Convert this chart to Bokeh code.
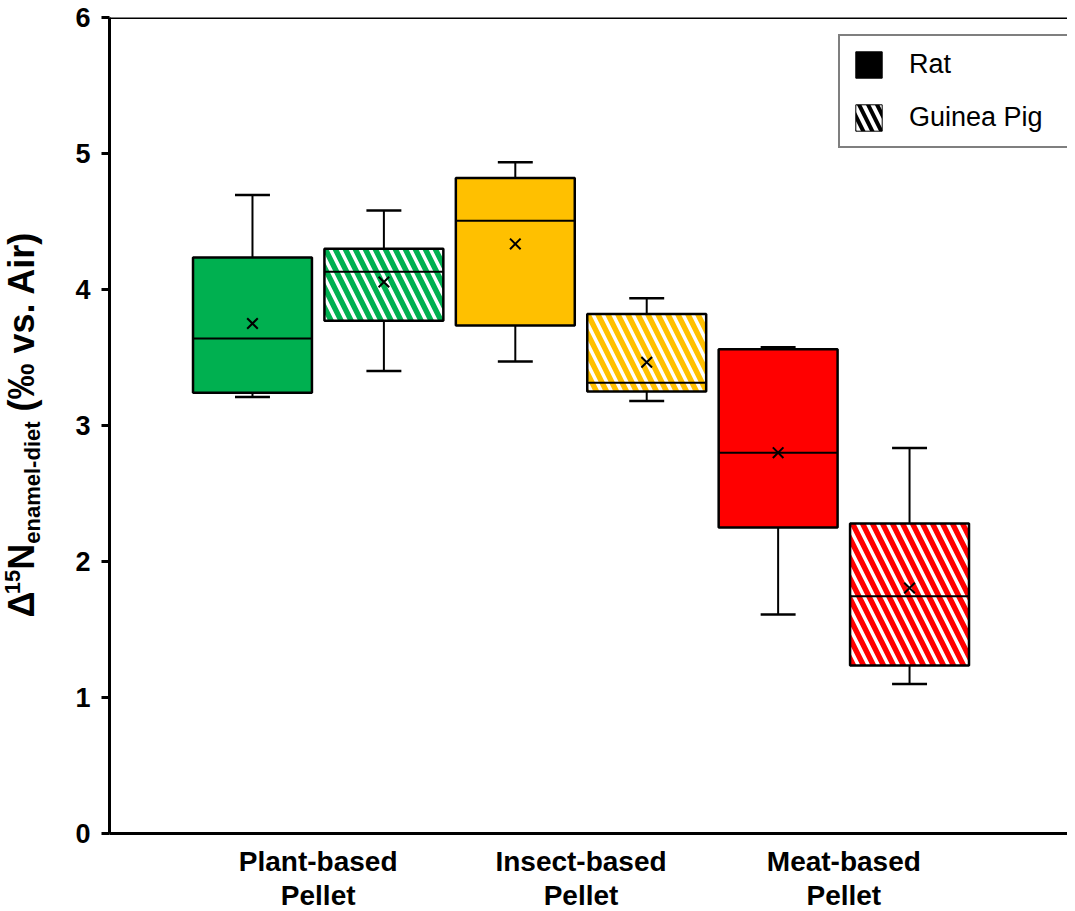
import math
from bokeh.plotting import figure
from bokeh.layouts import row
from bokeh.models import Range1d, FixedTicker, Span, Legend, LegendItem
from bokeh.core.properties import value
from bokeh.embed import file_html
from bokeh.resources import INLINE

# ---- data ----
diets = ["Plant-based\nPellet", "Insect-based\nPellet", "Meat-based\nPellet"]
animals = ["Rat", "Guinea Pig"]
diet_colors = ["#00B050", "#FFC000", "#FF0000"]

# order: Plant Rat, Plant GP, Insect Rat, Insect GP, Meat Rat, Meat GP
box_diet = [0, 0, 1, 1, 2, 2]
box_animal = [0, 1, 0, 1, 0, 1]
lower = [3.21, 3.40, 3.47, 3.18, 1.61, 1.10]
q1 = [3.24, 3.77, 3.735, 3.25, 2.25, 1.235]
median = [3.64, 4.13, 4.505, 3.315, 2.80, 1.745]
q3 = [4.235, 4.30, 4.82, 3.82, 3.56, 2.28]
upper = [4.695, 4.58, 4.935, 3.935, 3.575, 2.835]
mean = [3.75, 4.055, 4.335, 3.465, 2.80, 1.805]

y_ticks = [0, 1, 2, 3, 4, 5, 6]

FONT = "Liberation Sans"

# ---- positions ----
pos = [d * 2 + a + 1 for d, a in zip(box_diet, box_animal)]
BW = 0.905
CAP = 0.133
colors = [diet_colors[d] for d in box_diet]

LEFT_W = 60
H = 908
p = figure(frame_width=958, frame_height=816, output_backend="svg", toolbar_location=None,
           x_range=Range1d(-0.088, 7.202), y_range=Range1d(0, 6),
           min_border_left=109 - LEFT_W, min_border_right=0, min_border_top=17,
           min_border_bottom=40, title=None)
p.outline_line_color = None
p.xgrid.visible = False
p.ygrid.visible = False
p.background_fill_color = "white"
p.border_fill_color = "white"

# y axis
ya = p.yaxis[0]
ya.ticker = FixedTicker(ticks=y_ticks)
ya.axis_line_width = 3
ya.major_tick_line_width = 3
ya.major_tick_out = 8
ya.major_tick_in = 0
ya.minor_tick_line_color = None
ya.major_label_text_font = FONT
ya.major_label_text_font_style = "bold"
ya.major_label_text_font_size = "27px"
ya.major_label_text_color = "black"
ya.major_label_standoff = 11

# x axis
xa = p.xaxis[0]
xa.ticker = FixedTicker(ticks=[1.5, 3.5, 5.5])
xa.major_label_overrides = {1.5: diets[0], 3.5: diets[1], 5.5: diets[2]}
xa.axis_line_width = 3
xa.major_tick_line_color = None
xa.major_tick_out = 0
xa.major_tick_in = 0
xa.minor_tick_line_color = None
xa.major_label_text_font = FONT
xa.major_label_text_font_style = "bold"
xa.major_label_text_font_size = "28px"
xa.major_label_text_color = "black"
xa.major_label_text_line_height = 1.1
xa.major_label_standoff = 12

# top frame line
p.add_layout(Span(location=6, dimension="width", line_width=3, line_color="black"))

rat_idx = [i for i in range(6) if box_animal[i] == 0]
gp_idx = [i for i in range(6) if box_animal[i] == 1]

def sub(lst, idx):
    return [lst[i] for i in idx]

# whiskers
p.segment(x0=pos, y0=q3, x1=pos, y1=upper, line_color="black", line_width=2)
p.segment(x0=pos, y0=q1, x1=pos, y1=lower, line_color="black", line_width=2)
p.segment(x0=[x - CAP for x in pos], y0=upper, x1=[x + CAP for x in pos], y1=upper,
          line_color="black", line_width=2.5)
p.segment(x0=[x - CAP for x in pos], y0=lower, x1=[x + CAP for x in pos], y1=lower,
          line_color="black", line_width=2.5)

# boxes
p.vbar(x=sub(pos, rat_idx), bottom=sub(q1, rat_idx), top=sub(q3, rat_idx), width=BW,
       fill_color=sub(colors, rat_idx), line_color="black", line_width=2.5)
p.vbar(x=sub(pos, gp_idx), bottom=sub(q1, gp_idx), top=sub(q3, gp_idx), width=BW,
       fill_color=sub(colors, gp_idx), line_color="black", line_width=2.5,
       hatch_pattern="\\", hatch_color="white", hatch_scale=20, hatch_weight=3.5)

# medians
p.segment(x0=[x - BW / 2 for x in pos], y0=median, x1=[x + BW / 2 for x in pos], y1=median,
          line_color="black", line_width=2)
# means
p.scatter(x=pos, y=mean, marker="x", size=15, line_color="black", line_width=2)

# legend proxies (one row each, outside the visible x range)
proxy_x = [p.x_range.start - 5]
r_rat = p.vbar(x=proxy_x, top=[1], width=0.5, fill_color="black", line_color="black",
               line_width=1)
r_gp = p.vbar(x=proxy_x, top=[1], width=0.5, fill_color="white", line_color="black",
              line_width=1, hatch_pattern="\\", hatch_color="black", hatch_scale=18,
              hatch_weight=4)
legend = Legend(items=[LegendItem(label=animals[0], renderers=[r_rat]),
                       LegendItem(label=animals[1], renderers=[r_gp])],
                location=(729, 685), orientation="vertical",
                border_line_color="black", border_line_width=2,
                padding=12, spacing=20, margin=0,
                glyph_width=33, glyph_height=33, label_standoff=24,
                label_width=147,
                label_text_font=FONT, label_text_font_size="27px",
                label_text_color="black",
                background_fill_alpha=1.0)
p.add_layout(legend)

# ---- left strip holding the y-axis title (pixel coordinates, y upward) ----
lf = figure(frame_width=LEFT_W, frame_height=H, output_backend="svg", toolbar_location=None,
            x_range=Range1d(0, LEFT_W), y_range=Range1d(0, H),
            x_axis_location=None, y_axis_location=None,
            min_border=0, min_border_left=0, min_border_right=0,
            min_border_top=0, min_border_bottom=0, title=None)
lf.outline_line_color = None
lf.xgrid.visible = False
lf.ygrid.visible = False

F = 36
S = 22
# (text, font px, baseline x, gap before, advance)
pieces = [
    ("\u0394", F, 21, 0, 0.65 * F),
    ("15", S, 12, 0, 2 * 0.556 * S),
    ("N", F, 21, 0, 0.722 * F),
    ("enamel-diet", S, 32, 0, 5.557 * S),
    ("(\u2030 vs. Air)", F, 21, 0.278 * F, 5.0 * F),
]
total = sum(g + w for _, _, _, g, w in pieces)
cur = 407 + total / 2  # page y of the text start (bottom end)
for txt, fs, bx, gap, w in pieces:
    cur -= gap
    lf.text(x=[bx], y=[H - cur], text=[txt], angle=math.pi / 2,
            text_font=value(FONT), text_font_style="bold",
            text_font_size=value(f"{fs}px"), text_align="left",
            text_baseline="alphabetic", text_color="black")
    cur -= w

layout = row(lf, p)
open("out.html", "w").write(file_html(layout, INLINE))
